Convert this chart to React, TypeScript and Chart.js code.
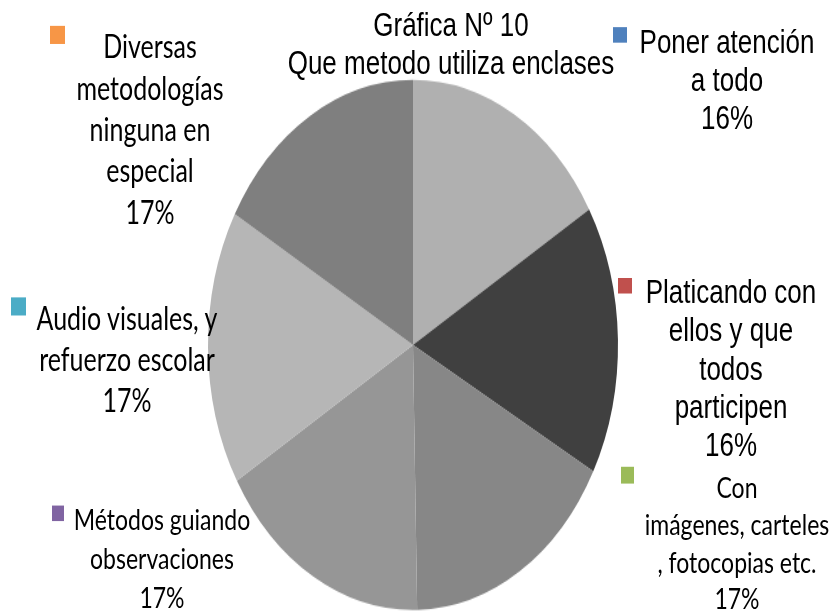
import React, { useEffect, useRef } from "react";
import { Chart, registerables } from "chart.js";

Chart.register(...registerables);

// ---- data ----
const titleLines = ["Gráfica Nº 10", "Que metodo utiliza enclases"];
const categories = [
  "Poner atención a todo",
  "Platicando con ellos y que todos participen",
  "Con imágenes, carteles , fotocopias etc.",
  "Métodos guiando observaciones",
  "Audio visuales, y refuerzo escolar",
  "Diversas metodologías ninguna en especial",
];
const labelLines = [
  ["Poner atención", "a todo"],
  ["Platicando con", "ellos y que", "todos", "participen"],
  ["Con", "imágenes, carteles", ", fotocopias etc."],
  ["Métodos guiando", "observaciones"],
  ["Audio visuales, y", "refuerzo escolar"],
  ["Diversas", "metodologías", "ninguna en", "especial"],
];
const values = [16.45, 16.45, 16.775, 16.775, 16.775, 16.775];
const sliceColors = ["#b0b0b0", "#404040", "#878787", "#969696", "#b6b6b6", "#7f7f7f"];
const keyColors = ["#4f81bd", "#c0504d", "#9bbb59", "#8064a2", "#4bacc6", "#f79646"];

// ---- layout: given in final (stretched) page coordinates; figure is stretched vertically by S ----
const W = 833;
const S = 1.293;
const H = 613 / S;
const CH = Math.round(H);

const CX = 413; // pie centre x
const CY = 345; // pie centre y (page)
const RX = 205; // horizontal radius

const ARIAL = "'Liberation Sans', Arial, sans-serif";
const CALI = "Lato, 'Open Sans', sans-serif";

const titleLayout = { cx: 451, cy: 25, lh: 38, size: 26 };

const labelLayout = [
  { cx: 727, cy: 42, lh: 38, font: ARIAL, size: 26, kx: 613, ky: 27, kw: 14, kh: 16 },
  { cx: 731, cy: 292, lh: 38.5, font: ARIAL, size: 26, kx: 618, ky: 278, kw: 14, kh: 15.5 },
  { cx: 737, cy: 487, lh: 37, font: CALI, size: 23, kx: 621, ky: 467, kw: 13, kh: 16 },
  { cx: 162, cy: 520, lh: 38.5, font: CALI, size: 23, kx: 52, ky: 505, kw: 12, kh: 16 },
  { cx: 127, cy: 317, lh: 41.5, font: CALI, size: 25, kx: 11, ky: 298, kw: 15, kh: 18 },
  { cx: 150, cy: 45, lh: 41.5, font: CALI, size: 25, kx: 50, ky: 26, kw: 15, kh: 18 },
];

export default function App() {
  const canvasRef = useRef<HTMLCanvasElement | null>(null);

  useEffect(() => {
    const canvas = canvasRef.current;
    if (!canvas) return;
    const top = CY / S - RX;
    const chart = new Chart(canvas, {
      type: "pie",
      data: {
        labels: categories,
        datasets: [
          {
            data: values,
            backgroundColor: sliceColors,
            borderWidth: 0,
            hoverOffset: 0,
            offset: 0,
          },
        ],
      },
      options: {
        responsive: false,
        maintainAspectRatio: false,
        devicePixelRatio: 1,
        animation: false,
        events: [],
        layout: {
          padding: {
            left: CX - RX,
            right: W - CX - RX,
            top: top,
            bottom: CH - top - 2 * RX,
          },
        },
        plugins: {
          legend: { display: false },
          tooltip: { enabled: false },
          title: { display: false },
        },
      },
    });
    return () => chart.destroy();
  }, []);

  const total = values.reduce((a, b) => a + b, 0);

  return (
    <div
      style={{
        position: "absolute",
        left: 0,
        top: 0,
        width: W,
        height: 613,
        overflow: "hidden",
        background: "#ffffff",
      }}
    >
      <div
        style={{
          position: "absolute",
          left: 0,
          top: 0,
          width: W,
          height: CH,
          transform: `scaleY(${S})`,
          transformOrigin: "0 0",
        }}
      >
        <canvas ref={canvasRef} width={W} height={CH} style={{ display: "block" }} />
        <div
          style={{
            position: "absolute",
            left: titleLayout.cx - 200,
            width: 400,
            top: (titleLayout.cy - titleLayout.lh / 2) / S,
            textAlign: "center",
            fontFamily: ARIAL,
            fontSize: titleLayout.size,
            lineHeight: titleLayout.lh / S + "px",
            color: "#000",
            whiteSpace: "nowrap",
          }}
        >
          {titleLines.map((t, i) => (
            <div key={i}>{t}</div>
          ))}
        </div>
        {labelLines.map((lines, i) => {
          const L = labelLayout[i];
          const pct = Math.round((values[i] / total) * 100) + "%";
          return (
            <React.Fragment key={i}>
              <div
                style={{
                  position: "absolute",
                  left: L.kx,
                  top: L.ky / S,
                  width: L.kw,
                  height: L.kh / S,
                  background: keyColors[i],
                }}
              />
              <div
                style={{
                  position: "absolute",
                  left: L.cx - 150,
                  width: 300,
                  top: (L.cy - L.lh / 2) / S,
                  textAlign: "center",
                  fontFamily: L.font,
                  fontSize: L.size,
                  lineHeight: L.lh / S + "px",
                  color: "#000",
                  whiteSpace: "nowrap",
                }}
              >
                {lines.map((t, j) => (
                  <div key={j}>{t}</div>
                ))}
                <div>{pct}</div>
              </div>
            </React.Fragment>
          );
        })}
      </div>
    </div>
  );
}
